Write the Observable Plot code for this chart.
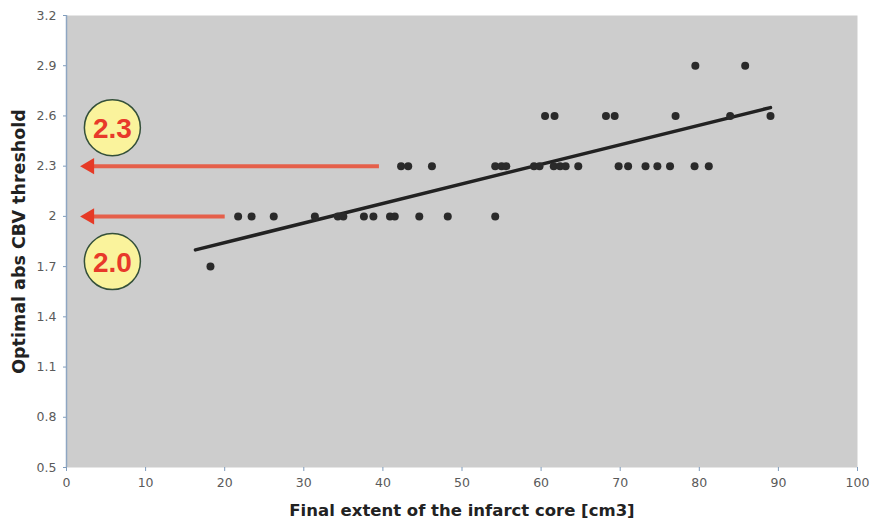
<!DOCTYPE html>
<html>
<head>
<meta charset="utf-8">
<script src="https://cdn.jsdelivr.net/npm/d3@7"></script>
<script src="https://cdn.jsdelivr.net/npm/@observablehq/plot@0.6"></script>
<style>
  html, body { margin: 0; padding: 0; background: #fff; }
  #chart svg { font-family: "DejaVu Sans", Verdana, sans-serif; }
  [aria-label="x-axis tick"], [aria-label="y-axis tick"] { stroke: #7f9cbc; }
  [aria-label="x-axis tick label"], [aria-label="y-axis tick label"] { fill: #5a5a5a; }
  [aria-label="x-axis label"], [aria-label="y-axis label"] { fill: #222; font-weight: bold; }
</style>
</head>
<body>
<div id="chart"></div>
<script>
// Points: x = final infarct core volume (cm3), y = optimal abs CBV threshold
const pointX = [
  18.2,
  21.7, 23.4, 26.2, 31.4, 34.3, 35.0, 37.6, 38.8, 40.9, 41.5, 44.6, 48.2, 54.2,
  42.3, 43.2, 46.2, 54.2, 55.0, 55.6, 59.1, 59.8, 61.6, 62.4, 63.1, 64.7, 69.8, 71.0, 73.2, 74.7, 76.3, 79.4, 81.2,
  60.5, 61.7, 68.2, 69.3, 77.0, 83.9, 89.0,
  79.5, 85.8
];
const pointY = [
  1.7,
  2.0, 2.0, 2.0, 2.0, 2.0, 2.0, 2.0, 2.0, 2.0, 2.0, 2.0, 2.0, 2.0,
  2.3, 2.3, 2.3, 2.3, 2.3, 2.3, 2.3, 2.3, 2.3, 2.3, 2.3, 2.3, 2.3, 2.3, 2.3, 2.3, 2.3, 2.3, 2.3,
  2.6, 2.6, 2.6, 2.6, 2.6, 2.6, 2.6,
  2.9, 2.9
];
// Trend line endpoints
const trendX = [16.3, 89.0];
const trendY = [1.80, 2.65];
// Arrows
const arrowY = [2.3, 2.0];
const arrowFrom = [39.5, 20.0];
const arrowTo = [3.2, 3.2];
const arrowHeadX = [2.9, 2.9];
// Badges
const badgeX = [5.8, 5.8];
const badgeY = [2.53, 1.73];
const badgeText = ["2.3", "2.0"];
// Ticks
const xTicks = [0, 10, 20, 30, 40, 50, 60, 70, 80, 90, 100];
const yTicks = [0.5, 0.8, 1.1, 1.4, 1.7, 2.0, 2.3, 2.6, 2.9, 3.2];

const points = pointX.map((x, i) => ({x, y: pointY[i]}));
const trend = trendX.map((x, i) => ({x, y: trendY[i]}));
const arrows = arrowY.map((y, i) => ({y, x1: arrowFrom[i], x2: arrowTo[i], hx: arrowHeadX[i]}));
const badges = badgeX.map((x, i) => ({x, y: badgeY[i], t: badgeText[i]}));

const chart = Plot.plot({
  width: 872,
  height: 521,
  marginLeft: 66,
  marginRight: 15,
  marginTop: 15,
  marginBottom: 54,
  x: {domain: [0, 100]},
  y: {domain: [0.5, 3.2]},
  marks: [
    Plot.frame({fill: "#cdcdcd", stroke: null}),
    Plot.axisX({ticks: xTicks, tickSize: 4, tickPadding: 7, fontSize: 12.5,
      label: "Final extent of the infarct core [cm3]", labelAnchor: "center", labelArrow: "none", labelOffset: 48}),
    Plot.axisY({ticks: yTicks, tickSize: 3, tickPadding: 7, fontSize: 12.5,
      tickFormat: d => String(+d.toFixed(1)),
      label: "Optimal abs CBV threshold", labelAnchor: "center", labelArrow: "none", labelOffset: 54}),
    Plot.ruleX([0], {stroke: "#8ea6c2", strokeWidth: 1.5}),
    Plot.link(arrows, {x1: "x1", x2: "x2", y1: "y", y2: "y", stroke: "#e8533c", strokeWidth: 4, strokeOpacity: 0.9}),
    Plot.dot(arrows, {x: "hx", y: "y", symbol: "triangle", rotate: -90, r: 6, fill: "#e63a26", stroke: null}),
    Plot.line(trend, {x: "x", y: "y", stroke: "#222", strokeWidth: 3.5}),
    Plot.dot(points, {x: "x", y: "y", r: 4, fill: "#2a2a2a", stroke: null}),
    Plot.dot(badges, {x: "x", y: "y", r: 28, fill: "#faf39c", stroke: "#34503a", strokeWidth: 1.5}),
    Plot.text(badges, {x: "x", y: "y", text: "t", fill: "#e8392a", fontSize: 28, fontWeight: "bold",
      fontFamily: "Liberation Sans, Arial, sans-serif", dy: 1})
  ]
});
chart.querySelectorAll('[aria-label="x-axis label"] text').forEach(t => { t.style.fontSize = "16.5px"; });
chart.querySelectorAll('[aria-label="y-axis label"] text').forEach(t => { t.style.fontSize = "17.5px"; });
document.getElementById("chart").appendChild(chart);
</script>
</body>
</html>
